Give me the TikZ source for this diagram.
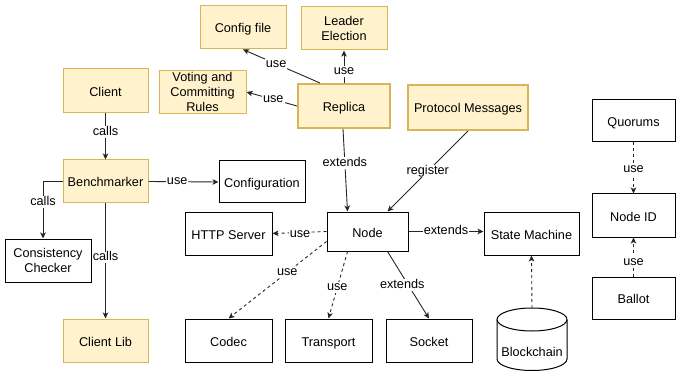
\documentclass[tikz,border=0pt]{standalone}
\usepackage{fontspec}
\setmainfont{Liberation Sans}
\usetikzlibrary{arrows.meta}
\definecolor{yfill}{HTML}{FFF2CC}
\definecolor{ydraw}{HTML}{D6B656}
\begin{document}
\begin{tikzpicture}[x=1pt,y=-1pt,
  every node/.style={font=\fontsize{12.7}{14.8}\selectfont},
  wbox/.style={draw=black, fill=white, line width=1pt, minimum width=86pt, minimum height=43pt, inner sep=0pt, align=center, text height=12pt, text depth=1pt},
  multi/.style={text height=, text depth=},
  ybox/.style={wbox, draw=ydraw, fill=yfill},
  thickbox/.style={ybox, line width=2pt},
  arr/.style={line width=0.9pt, draw=black!85, -{Stealth[length=6pt,width=5.5pt,inset=1.5pt]}},
  darr/.style={arr, dash pattern=on 3pt off 3pt},
  lab/.style={fill=white, inner sep=1pt, text=black, text height=8pt, text depth=1.5pt}
]
\useasboundingbox (0,0) rectangle (676,371);

% yellow boxes
\node[ybox] (config) at (243,27.5) {Config file};
\node[ybox, multi] (leader) at (344,28.5) {Leader\\Election};
\node[ybox, multi, minimum width=87pt] (voting) at (202.5,92) {Voting and\\Committing\\Rules};
\node[thickbox, minimum width=92pt, minimum height=44pt] (replica) at (344,106) {Replica};
\node[thickbox, minimum width=120pt, minimum height=45pt] (protocol) at (468,107.5) {Protocol Messages};
\node[ybox, minimum width=85pt, minimum height=44pt] (client) at (105.5,91) {Client};
\node[ybox, minimum width=85pt] (bench) at (105.5,181.5) {Benchmarker};
\node[ybox, minimum width=85pt] (clientlib) at (105.5,340.5) {Client Lib};

% white boxes
\node[wbox, minimum height=42pt] (configuration) at (262,182) {Configuration};
\node[wbox, multi] (consistency) at (48,260.5) {Consistency\\Checker};
\node[wbox, minimum width=87pt] (http) at (228.5,233.5) {HTTP Server};
\node[wbox, minimum width=81pt, minimum height=39pt] (node) at (367.5,231.5) {Node};
\node[wbox, minimum width=95pt] (sm) at (531.5,233.5) {State Machine};
\node[wbox, minimum width=87pt] (codec) at (228.5,340.5) {Codec};
\node[wbox, minimum width=87pt] (transport) at (328.5,340.5) {Transport};
\node[wbox] (socket) at (429,340.5) {Socket};
\node[wbox, minimum width=83pt, minimum height=42pt] (quorums) at (633.5,121) {Quorums};
\node[wbox, minimum width=83pt] (nodeid) at (633.5,215.5) {Node ID};
\node[wbox, minimum width=83pt, minimum height=42pt] (ballot) at (633.5,298) {Ballot};

% blockchain cylinder
\draw[line width=1pt, fill=white] (497,319.5) -- (497,359) arc[start angle=180, end angle=0, x radius=35, y radius=11.5] -- (567,319.5);
\draw[line width=1pt, fill=white] (532,319.5) ellipse[x radius=35, y radius=11.5];
\node[text height=12pt, text depth=1pt] (bc) at (532,351) {Blockchain};
\coordinate (bctop) at (532,308);

% edges
\draw[arr] ([xshift=-24pt]replica.north) -- node[lab,pos=.57]{use} (config.south);
\draw[arr] (replica.north) -- node[lab,pos=.35]{use} (leader.south);
\draw[arr] (replica.west) -- node[lab,pos=.47]{use} (voting.east);
\draw[arr] (client.south) -- node[lab,pos=.4]{calls} (bench.north);
\draw[arr] (bench.east) -- node[lab,pos=.41]{use} (configuration.west);
\draw[arr] (bench.west) -| node[lab,pos=.68]{calls} ([xshift=-5pt]consistency.north);
\draw[arr] (bench.south) -- node[lab,pos=.47]{calls} (clientlib.north);
\draw[arr] ([xshift=-1pt]replica.south) -- node[lab,pos=.41]{extends} ([xshift=-20pt]node.north);
\draw[arr] (protocol.south) -- node[lab,pos=.5]{register} ([xshift=20pt]node.north);
\draw[darr] (node.west) -- node[lab,pos=.49,yshift=-2pt]{use} (http.east);
\draw[darr] ([yshift=-10pt]node.west) -- node[lab,pos=.4]{use} (codec.north);
\draw[darr] ([xshift=-20pt]node.south) -- node[lab,pos=.54]{use} (transport.north);
\draw[arr] ([xshift=20pt]node.south) -- node[lab,pos=.5,xshift=-6pt]{extends} (socket.north);
\draw[arr] (node.east) -- node[lab,pos=.5]{extends} (node.east -| sm.west);
\draw[darr] (bctop) -- (sm.south);
\draw[darr] (quorums.south) -- node[lab,pos=.52]{use} (nodeid.north);
\draw[darr] (ballot.north) -- node[lab,pos=.375]{use} (nodeid.south);
\end{tikzpicture}
\end{document}
